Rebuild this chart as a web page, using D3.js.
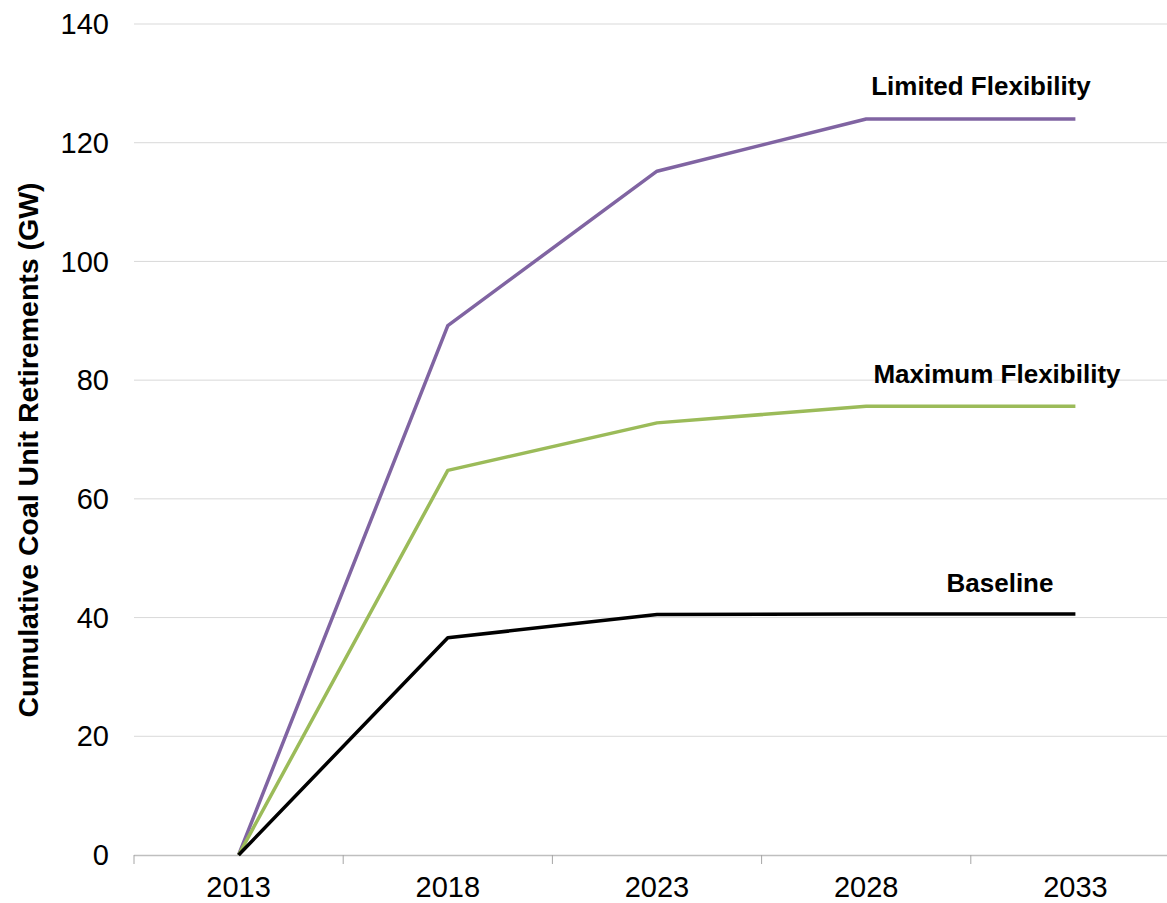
<!DOCTYPE html>
<html>
<head>
<meta charset="utf-8">
<script src="https://cdn.jsdelivr.net/npm/d3@7"></script>
<style>
  html, body { margin: 0; padding: 0; background: #fff; }
  svg { display: block; font-family: "Liberation Sans", Arial, sans-serif; }
</style>
</head>
<body>
<svg id="chart" width="1167" height="903"></svg>
<script>
const years = ["2013", "2018", "2023", "2028", "2033"];
const limitedFlex = [0, 89.2, 115.2, 124.0, 124.0];
const maximumFlex = [0, 64.8, 72.8, 75.6, 75.6];
const baseline = [0, 36.6, 40.5, 40.6, 40.6];
const seriesNames = ["Limited Flexibility", "Maximum Flexibility", "Baseline"];
const yTicks = [0, 20, 40, 60, 80, 100, 120, 140];
const yTitle = "Cumulative Coal Unit Retirements (GW)";

const series = [
  { name: seriesNames[0], values: limitedFlex, color: "#8064A2" },
  { name: seriesNames[1], values: maximumFlex, color: "#9BBB59" },
  { name: seriesNames[2], values: baseline, color: "#000000" }
];

const svg = d3.select("#chart");
const x = d3.scaleBand().domain(years).range([134, 1180]);
const y = d3.scaleLinear().domain([0, 140]).range([855, 24]);

// gridlines
svg.append("g").selectAll("line").data(yTicks.filter(t => t > 0)).join("line")
  .attr("x1", 134).attr("x2", 1167)
  .attr("y1", d => y(d)).attr("y2", d => y(d))
  .attr("stroke", "#d9d9d9").attr("stroke-width", 1);

// y tick labels
svg.append("g").selectAll("text").data(yTicks).join("text")
  .attr("x", 109).attr("y", d => y(d))
  .attr("dy", "0.35em")
  .attr("text-anchor", "end")
  .attr("font-size", 29)
  .attr("fill", "#000")
  .text(d => d);

// x axis
const gx = svg.append("g").attr("transform", "translate(0,855)");
gx.append("line").attr("x1", 134).attr("x2", 1167).attr("y1", 0.5).attr("y2", 0.5)
  .attr("stroke", "#bfbfbf").attr("stroke-width", 1.5);
const boundaries = years.map(d => x(d));
gx.selectAll("line.tk").data(boundaries).join("line").attr("class", "tk")
  .attr("x1", d => d).attr("x2", d => d).attr("y1", 0).attr("y2", 9)
  .attr("stroke", "#a6a6a6").attr("stroke-width", 1);
gx.selectAll("text.xl").data(years).join("text").attr("class", "xl")
  .attr("x", d => x(d) + x.bandwidth() / 2)
  .attr("y", 42)
  .attr("text-anchor", "middle")
  .attr("font-size", 29)
  .attr("fill", "#000")
  .text(d => d);

// lines
const line = d3.line()
  .x((d, i) => x(years[i]) + x.bandwidth() / 2)
  .y(d => y(d));
svg.append("g").selectAll("path").data(series).join("path")
  .attr("d", d => line(d.values))
  .attr("fill", "none")
  .attr("stroke", d => d.color)
  .attr("stroke-width", 3.5)
  .attr("stroke-linejoin", "round");

// series labels
const labelPos = [
  { cx: 981, dy: -24 },
  { cx: 997, dy: -23 },
  { cx: 1000, dy: -22 }
];
svg.append("g").selectAll("text").data(series).join("text")
  .attr("x", (d, i) => labelPos[i].cx)
  .attr("y", (d, i) => y(d.values[4]) + labelPos[i].dy)
  .attr("text-anchor", "middle")
  .attr("font-size", 26)
  .attr("font-weight", "bold")
  .attr("fill", "#000")
  .text(d => d.name);

// y title
svg.append("text")
  .attr("transform", "translate(38,450) rotate(-90)")
  .attr("text-anchor", "middle")
  .attr("font-size", 28.5)
  .attr("font-weight", "bold")
  .attr("fill", "#000")
  .text(yTitle);
</script>
</body>
</html>
